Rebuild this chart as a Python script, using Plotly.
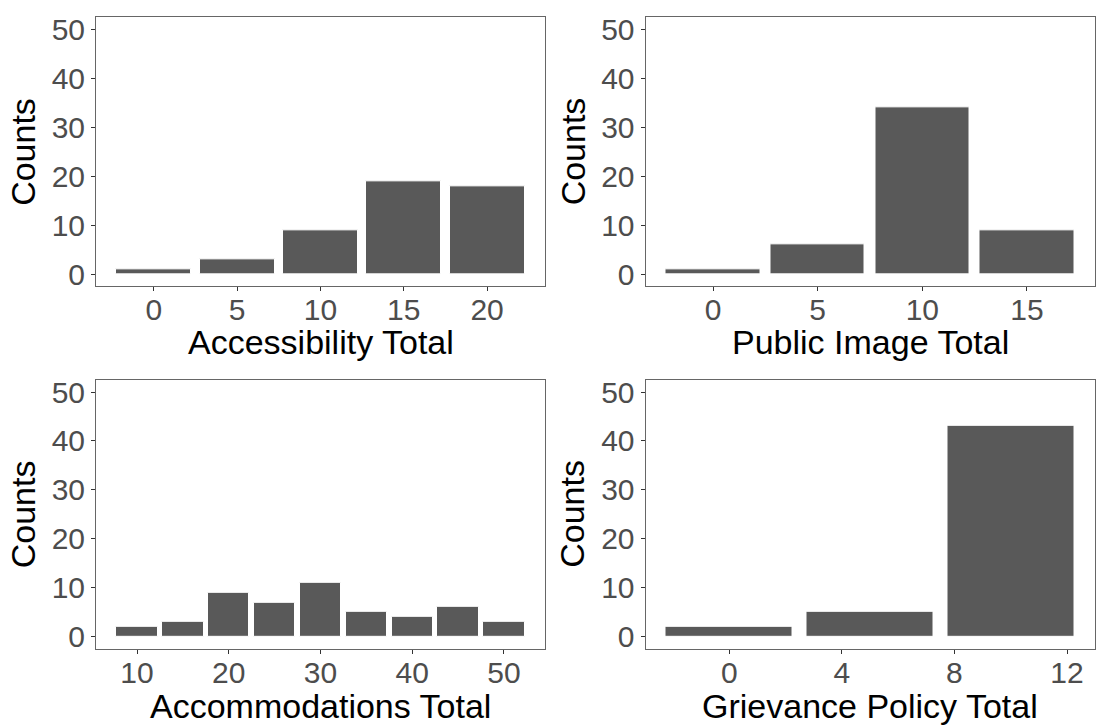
import plotly.graph_objects as go

# ---- data ----
acc_x = [0, 5, 10, 15, 20]
acc_counts = [1, 3, 9, 19, 18]

pub_x = [0, 5, 10, 15]
pub_counts = [1, 6, 34, 9]

accom_x = [10, 15, 20, 25, 30, 35, 40, 45, 50]
accom_counts = [2, 3, 9, 7, 11, 5, 4, 6, 3]

griev_x = [0, 5, 10]
griev_counts = [2, 5, 43]

acc_ticks = [0, 5, 10, 15, 20]
pub_ticks = [0, 5, 10, 15]
accom_ticks = [10, 20, 30, 40, 50]
griev_ticks = [0, 4, 8, 12]
y_ticks = [0, 10, 20, 30, 40, 50]

titles = ["Accessibility Total", "Public Image Total",
          "Accommodations Total", "Grievance Policy Total"]
y_title = "Counts"

# ---- layout geometry ----
W, H = 1099, 727
FONT = "Liberation Sans, Arial, sans-serif"
BAR_W = 4.5

xl = [96 / W, 545 / W]
xr = [645.5 / W, 1094.5 / W]
yt = [1 - 285.5 / H, 1 - 13.5 / H]
yb = [1 - 652 / H, 1 - 380 / H]

panels = [
    (acc_x, acc_counts, acc_ticks, xl, yt),
    (pub_x, pub_counts, pub_ticks, xr, yt),
    (accom_x, accom_counts, accom_ticks, xl, yb),
    (griev_x, griev_counts, griev_ticks, xr, yb),
]

fig = go.Figure()
layout = dict(
    width=W, height=H,
    margin=dict(l=0, r=0, t=0, b=0),
    paper_bgcolor="white", plot_bgcolor="white",
    showlegend=False,
    font=dict(family=FONT),
    bargap=0,
)

annotations = []
for i, (xs, ys, ticks, xd, yd) in enumerate(panels):
    n = "" if i == 0 else str(i + 1)
    fig.add_trace(go.Bar(
        x=xs, y=ys, width=BAR_W,
        marker=dict(color="#595959", line=dict(color="white", width=1)),
        xaxis="x" + n, yaxis="y" + n,
    ))
    lo = min(xs) - BAR_W / 2
    hi = max(xs) + BAR_W / 2
    pad = 0.05 * (hi - lo)
    axis_common = dict(
        showgrid=False, zeroline=False,
        showline=True, mirror=True, linecolor="#666666", linewidth=1,
        ticks="outside", ticklen=4, tickwidth=1, tickcolor="#333333",
        tickfont=dict(family=FONT, size=30, color="#4D4D4D"),
    )
    layout["xaxis" + n] = dict(
        axis_common, domain=xd, range=[lo - pad, hi + pad],
        tickmode="array", tickvals=ticks, ticktext=[str(t) for t in ticks],
        anchor="y" + n, ticklabelstandoff=-7,
    )
    layout["yaxis" + n] = dict(
        axis_common, domain=yd, range=[-2.5, 52.5],
        tickmode="array", tickvals=y_ticks, ticktext=[str(t) for t in y_ticks],
        anchor="x" + n,
    )
    # x-axis title
    ypix = 341.5 if yd is yt else 710
    annotations.append(dict(
        text=titles[i], xref="paper", yref="paper",
        x=(xd[0] + xd[1]) / 2, y=1 - ypix / H,
        xanchor="center", yanchor="middle", showarrow=False,
        font=dict(family=FONT, size=34, color="black"),
    ))
    # y-axis title
    xpix = xd[0] * W - 73
    annotations.append(dict(
        text=y_title, xref="paper", yref="paper",
        x=xpix / W, y=(yd[0] + yd[1]) / 2,
        xanchor="center", yanchor="middle", textangle=-90, showarrow=False,
        font=dict(family=FONT, size=34, color="black"),
    ))

layout["annotations"] = annotations
fig.update_layout(**layout)
fig.write_html("out.html",
               config={"displayModeBar": False},
               post_script="document.body.style.margin='0';")
